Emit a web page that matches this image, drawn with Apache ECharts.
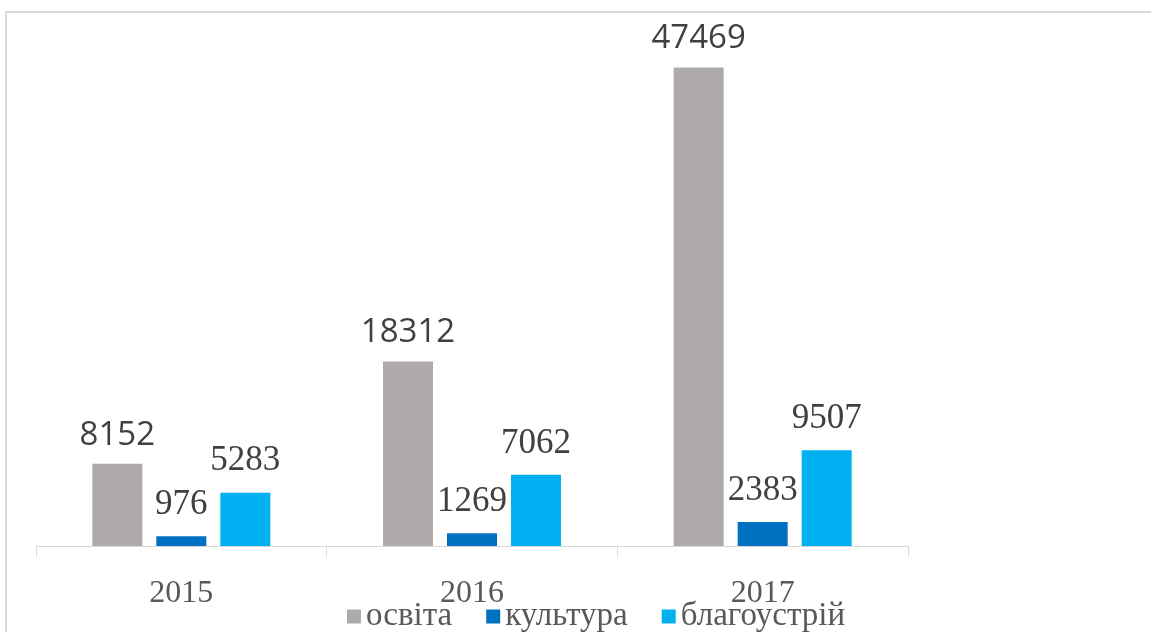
<!DOCTYPE html>
<html>
<head>
<meta charset="utf-8">
<script src="https://cdn.jsdelivr.net/npm/echarts@6/dist/echarts.min.js"></script>
<style>
  html, body { margin: 0; padding: 0; background: #fff; }
  #chart { width: 1151px; height: 632px; }
</style>
</head>
<body>
<div id="chart"></div>
<script>
var years = ['2015', '2016', '2017']
var seriesNames = ['освіта', 'культура', 'благоустрій']
var osvita = [8152, 18312, 47469]
var kultura = [976, 1269, 2383]
var blagoustrii = [5283, 7062, 9507]
var colors = ['#aeaaaa', '#0070c0', '#00b0f0']

var myChart = echarts.init(document.getElementById('chart'))

var serif = '"Liberation Serif", "Times New Roman", serif'
var sans = '"Open Sans", "Noto Sans", sans-serif'

function bar (name, data, color, font, size, dist) {
  return {
    name: name,
    type: 'bar',
    data: data,
    barWidth: 50,
    barGap: '28%',
    itemStyle: { color: color },
    label: {
      show: true,
      position: 'top',
      distance: dist,
      color: '#404040',
      fontFamily: font,
      fontSize: size
    }
  }
}

var option = {
  animation: false,
  backgroundColor: '#fff',
  graphic: [{
    type: 'rect',
    shape: { x: 6, y: 12, width: 1200, height: 700 },
    style: { fill: 'none', stroke: '#d9d9d9', lineWidth: 2 },
    silent: true
  }],
  grid: { left: 36, right: 243, top: 42, bottom: 86 },
  legend: {
    data: seriesNames,
    top: 595,
    left: 342,
    itemWidth: 14,
    itemHeight: 14,
    itemGap: 34,
    icon: 'rect',
    textStyle: { color: '#595959', fontFamily: serif, fontSize: 33 }
  },
  xAxis: {
    type: 'category',
    data: years,
    axisLine: { lineStyle: { color: '#d9d9d9', width: 1 } },
    axisTick: { show: true, length: 11, lineStyle: { color: '#d9d9d9' } },
    axisLabel: { color: '#595959', fontFamily: serif, fontSize: 32, margin: 32 }
  },
  yAxis: {
    type: 'value',
    min: 0,
    max: 50000,
    show: false,
    splitLine: { show: false }
  },
  series: [
    bar(seriesNames[0], osvita, colors[0], sans, 33, 12),
    bar(seriesNames[1], kultura, colors[1], serif, 35, 14),
    bar(seriesNames[2], blagoustrii, colors[2], serif, 35, 14)
  ]
}
myChart.setOption(option)
</script>
</body>
</html>
